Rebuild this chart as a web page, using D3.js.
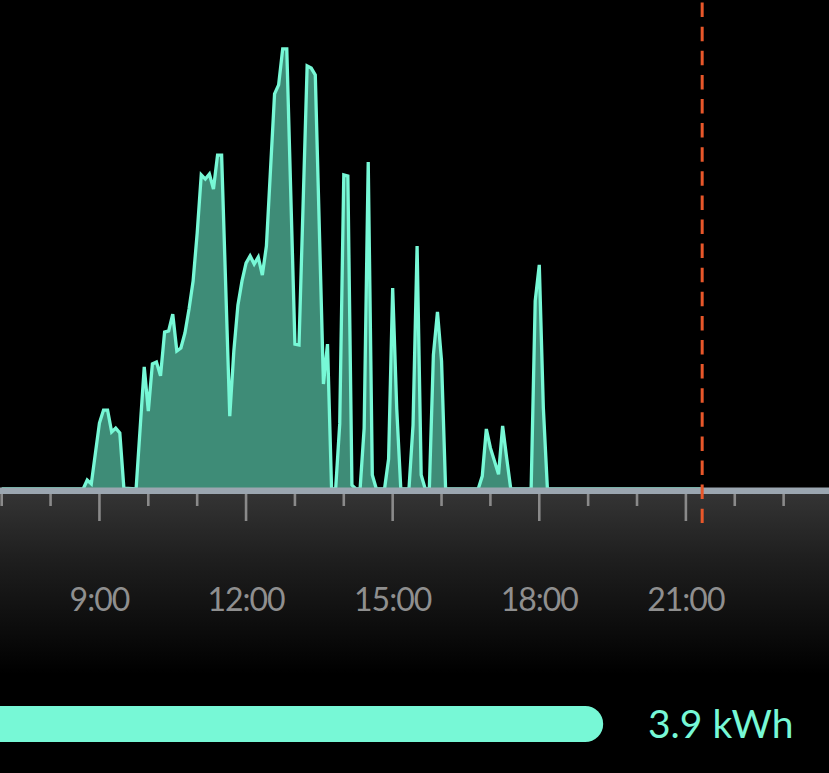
<!DOCTYPE html>
<html>
<head>
<meta charset="utf-8">
<script src="https://cdn.jsdelivr.net/npm/d3@7"></script>
<style>
  html, body { margin: 0; padding: 0; background: #000; overflow: hidden; }
  svg { display: block; }
</style>
</head>
<body>
<div id="chart"></div>
<script>
// ---- data ----
const times = ["07:00","08:40","08:45","08:50","09:00","09:05","09:10","09:15","09:20","09:25","09:30","09:45",
  "09:55","10:00","10:05","10:10","10:15","10:20","10:25","10:30","10:35","10:40","10:45","10:50","10:55",
  "11:00","11:05","11:10","11:15","11:20","11:25","11:30","11:40","11:45","11:50","11:55",
  "12:00","12:05","12:10","12:15","12:20","12:25","12:35","12:40","12:45","12:50",
  "13:00","13:05","13:15","13:20","13:25","13:35","13:40","13:45","13:50","13:55",
  "14:00","14:05","14:10","14:15","14:20","14:25","14:30","14:35","14:40","14:50","14:55",
  "15:00","15:05","15:10","15:20","15:25","15:30","15:35","15:40","15:45","15:50","15:55",
  "16:00","16:05","16:45","16:50","16:55","17:00","17:10","17:15","17:20","17:25",
  "17:50","17:55","18:00","18:05","18:10","21:20"];
const watts = [0,0,30,17,220,263,263,190,203,187,3,0,
  407,260,417,423,377,523,527,583,460,470,520,600,693,
  853,1047,1033,1050,1000,1113,1113,243,460,613,693,
  753,777,750,773,713,810,1317,1347,1467,1467,
  483,480,1410,1403,1380,350,483,0,0,217,
  1047,1043,13,0,0,203,1090,47,0,0,100,
  670,267,0,0,213,810,47,0,0,447,590,
  427,0,0,43,200,137,49,210,103,0,
  0,627,747,270,0,0];
const hourTicks = [7,8,9,10,11,12,13,14,15,16,17,18,19,20,21,22,23];
const labelHours = [9,12,15,18,21];
const tickLabels = ["9:00","12:00","15:00","18:00","21:00"];
const nowTime = "21:20";
const totalKWh = 3.9;
const totalLabel = "3.9 kWh";

// ---- setup ----
const W = 829, H = 773;
const toH = s => { const [h, m] = s.split(":").map(Number); return h + m / 60; };
const data = times.map((t, i) => ({ h: toH(t), v: watts[i] }));

const x = d3.scaleLinear().domain([7, 24]).range([1.7, 832.5]);
const y = d3.scaleLinear().domain([0, 1600]).range([489, 9]);
const barX = d3.scaleLinear().domain([0, 5.36]).range([0, 829]);

const svg = d3.select("#chart").append("svg").attr("width", W).attr("height", H);
svg.append("rect").attr("width", W).attr("height", H).attr("fill", "#000");

const defs = svg.append("defs");
const g1 = defs.append("linearGradient").attr("id", "bottomGrad")
  .attr("x1", 0).attr("y1", 0).attr("x2", 0).attr("y2", 1);
g1.append("stop").attr("offset", "0%").attr("stop-color", "#343434");
g1.append("stop").attr("offset", "35%").attr("stop-color", "#1f1f1f");
g1.append("stop").attr("offset", "100%").attr("stop-color", "#000");

// bottom gray panel
svg.append("rect").attr("x", 0).attr("y", 494).attr("width", W).attr("height", 180)
  .attr("fill", "url(#bottomGrad)");

// area
const area = d3.area().x(d => x(d.h)).y0(y(0)).y1(d => y(d.v));
const line = d3.line().x(d => x(d.h)).y(d => y(d.v));
svg.append("path").datum(data).attr("d", area).attr("fill", "#3e8c77");
svg.append("path").datum(data).attr("d", line).attr("fill", "none")
  .attr("stroke", "#77f8d6").attr("stroke-width", 3.3).attr("stroke-linejoin", "miter");

// axis band
svg.append("rect").attr("x", 0).attr("y", 487.5).attr("width", W).attr("height", 6.5)
  .attr("fill", "#9ba6b0");

// ticks
svg.append("g").selectAll("line").data(hourTicks).join("line")
  .attr("x1", d => x(d)).attr("x2", d => x(d))
  .attr("y1", 494).attr("y2", d => labelHours.includes(d) ? 521 : 506)
  .attr("stroke", "#8a8a8a").attr("stroke-width", 2.6);

// labels
svg.append("g").selectAll("text").data(labelHours).join("text")
  .attr("x", d => x(d)).attr("y", 611)
  .attr("text-anchor", "middle")
  .attr("font-family", "Lato, 'Open Sans', sans-serif")
  .attr("font-size", 32).attr("letter-spacing", -1)
  .attr("fill", "#8f8f8f")
  .text((d, i) => tickLabels[i]);

// now line
svg.append("line").attr("x1", x(toH(nowTime))).attr("x2", x(toH(nowTime)))
  .attr("y1", 2.6).attr("y2", 523)
  .attr("stroke", "#e8572a").attr("stroke-width", 3)
  .attr("stroke-dasharray", "14.5,9.6");

// total bar
const bw = barX(totalKWh);
svg.append("path")
  .attr("d", `M-2,706 H${bw - 18} A18,18 0 0 1 ${bw - 18},742 H-2 Z`)
  .attr("fill", "#77f8d6");
svg.append("text").attr("x", 648).attr("y", 738)
  .attr("font-family", "Lato, 'Open Sans', sans-serif")
  .attr("font-size", 39).attr("fill", "#77f8d6")
  .text(totalLabel);
</script>
</body>
</html>
